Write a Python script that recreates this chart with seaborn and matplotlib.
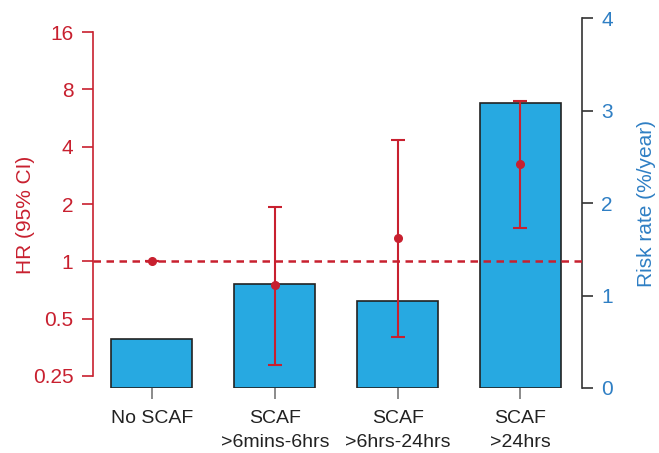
import seaborn as sns
import pandas as pd
import numpy as np
import matplotlib.pyplot as plt
import matplotlib.ticker as ticker

categories=['No SCAF','SCAF\n>6mins-6hrs','SCAF\n>6hrs-24hrs','SCAF\n>24hrs']
risk_rate=[0.53,1.13,0.94,3.08]
hr=[1.0,0.75,1.32,3.25]
hr_low=[1.0,0.285,0.40,1.50]
hr_high=[1.0,1.94,4.33,6.95]
hr_ticks=[0.25,0.5,1,2,4,8,16]
hr_ticklabels=['0.25','0.5','1','2','4','8','16']
rate_ticks=[0,1,2,3,4]

RED='#c8202f'
BLUE='#27a9e1'
BLUE_TXT='#2f7fc4'

sns.set_style('ticks')
plt.rcParams['font.family']=['Liberation Sans','DejaVu Sans']

df=pd.DataFrame({'group':categories,'rate':risk_rate})

fig=plt.figure(figsize=(6.59,4.53),dpi=100)
ax=fig.add_axes([0.141,0.1435,0.742,0.8165])

# bars on risk rate scale (right side)
sns.barplot(data=df,x='group',y='rate',ax=ax,color=BLUE,saturation=1,
            edgecolor='#222222',linewidth=1.2,width=0.66)
ax.set_xlim(-0.48,3.5)
ax.set_ylim(0,4)

# HR on log2 scale (left side)
ax2=ax.twinx()

ax.yaxis.tick_right()
ax.yaxis.set_label_position('right')
ax.set_yticks(rate_ticks)
ax.tick_params(axis='y',which='both',left=False,labelleft=False,right=True,labelright=True,
               colors='#333333',labelcolor=BLUE_TXT,labelsize=15,length=8,width=1.2,pad=6)
ax.tick_params(axis='x',colors='#777777',labelcolor='#222222',labelsize=14,length=8,width=1.2,pad=8)
for lab in ax.get_xticklabels():
    lab.set_linespacing(1.55)
ax.set_xlabel('')
ax.set_ylabel('Risk rate (%/year)',color=BLUE_TXT,fontsize=15,labelpad=17)
for s in ['top','left','bottom']:
    ax.spines[s].set_visible(False)
ax.spines['right'].set_visible(True)
ax.spines['right'].set_color('#333333')
ax.spines['right'].set_linewidth(1.2)

ax2.set_yscale('log',base=2)
lo=2**(-2-12/57.2)
hi=2**(4+14/57.2)
ax2.set_ylim(lo,hi)
ax2.yaxis.tick_left()
ax2.yaxis.set_label_position('left')
ax2.set_yticks(hr_ticks)
ax2.yaxis.set_major_formatter(ticker.FixedFormatter(hr_ticklabels))
ax2.yaxis.set_minor_locator(ticker.NullLocator())
ax2.tick_params(axis='y',which='both',right=False,labelright=False,left=True,labelleft=True,
                colors=RED,labelcolor=RED,labelsize=15,length=8,width=1.2,pad=6)
ax2.set_ylabel('HR (95% CI)',color=RED,fontsize=15)
ax2.yaxis.set_label_coords(-0.118,0.468)
for s in ['top','right','bottom']:
    ax2.spines[s].set_visible(False)
ax2.spines['left'].set_visible(True)
ax2.spines['left'].set_color(RED)
ax2.spines['left'].set_linewidth(1.2)
ax2.spines['left'].set_bounds(0.25,16)

ax2.axhline(1,color=RED,linestyle=(0,(3,2.2)),linewidth=1.8,zorder=1)
x=np.arange(len(categories))
hr_arr=np.array(hr)
yerr=[hr_arr-np.array(hr_low),np.array(hr_high)-hr_arr]
ax2.errorbar(x,hr_arr,yerr=yerr,fmt='o',color=RED,ecolor=RED,markersize=5.5,
             elinewidth=1.5,capsize=5,capthick=1.5,zorder=3)

fig.savefig('out.png',dpi=100)
